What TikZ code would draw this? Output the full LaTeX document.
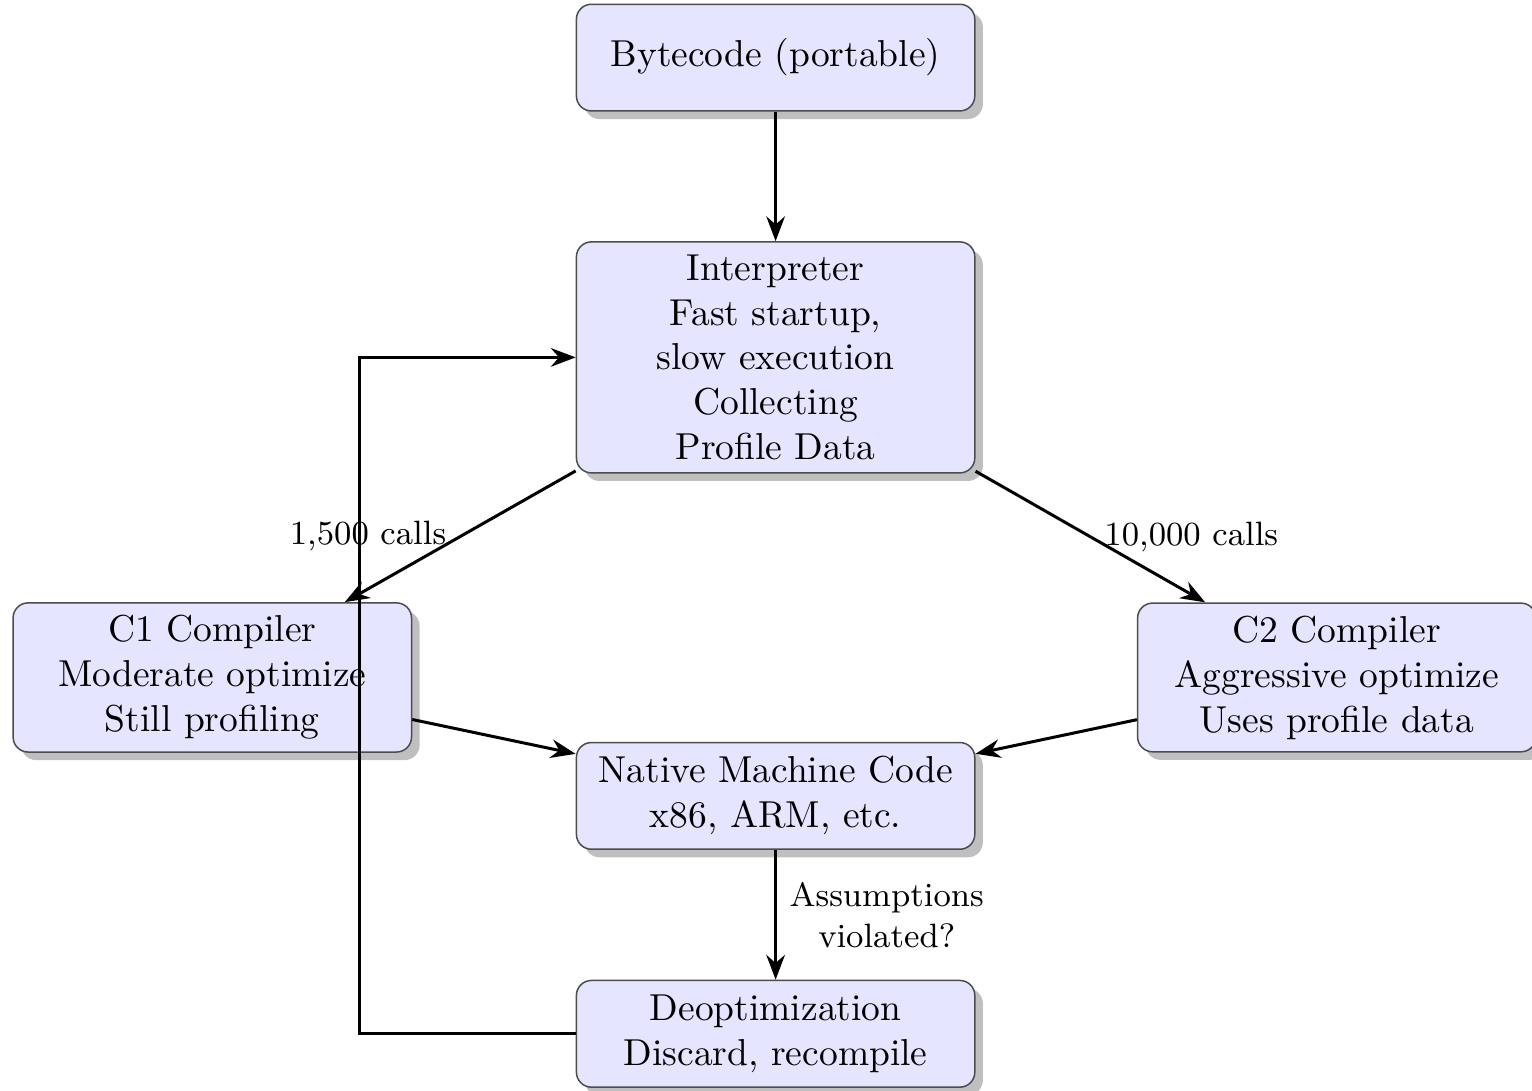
\documentclass[tikz,border=0pt]{standalone}
\usepackage{tikz}
\usetikzlibrary{shapes,arrows,positioning,calc,shadows,arrows.meta}

\tikzset{
    stage/.style={rectangle, rounded corners, draw=black!70, fill=blue!10,
        drop shadow, text width=3.5cm, align=center, minimum height=1cm},
    flow/.style={-Stealth, thick},
    calls/.style={font=\small}
}

\begin{document}
\begin{tikzpicture}
    \useasboundingbox (0,0) rectangle (14.36,-10.22);

    % Stages
    \node[stage] (bytecode) at (7.27,-0.54) {Bytecode (portable)};
    \node[stage] (interp) at (7.27,-3.35) {Interpreter\\Fast startup,\\slow execution\\Collecting\\Profile Data};
    \node[stage] (c1) at (1.99,-6.35) {C1 Compiler\\Moderate optimize\\Still profiling};
    \node[stage] (c2) at (12.53,-6.35) {C2 Compiler\\Aggressive optimize\\Uses profile data};
    \node[stage] (native) at (7.27,-7.46) {Native Machine Code\\x86, ARM, etc.};
    \node[stage] (deopt) at (7.27,-9.69) {Deoptimization\\Discard, recompile};

    % Arrows
    \draw[flow] (bytecode) -- (interp);
    \draw[flow] (interp) -- node[calls, midway, left] {1,500 calls} (c1);
    \draw[flow] (interp) -- node[calls, midway, right] {10,000 calls} (c2);
    \draw[flow] (c1) -- (native);
    \draw[flow] (c2) -- (native);
    \draw[flow] (native) -- node[calls, midway, right, align=center] {Assumptions\\violated?} (deopt);

    % Back to interpreter
    \draw[flow] (deopt.west) -- ++(-2.03,0) |- (interp.west);
\end{tikzpicture}
\end{document}
